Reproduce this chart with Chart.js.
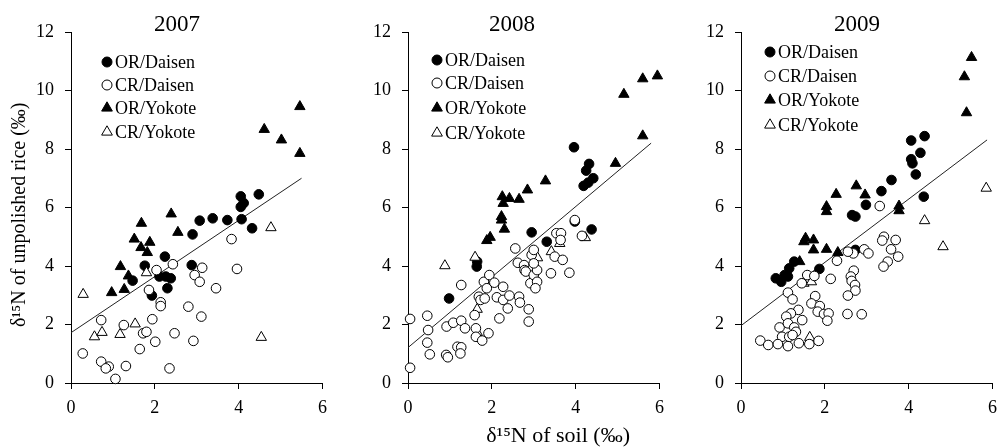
<!DOCTYPE html>
<html>
<head>
<meta charset="utf-8">
<script src="https://cdn.jsdelivr.net/npm/chart.js@4.4.1/dist/chart.umd.min.js"></script>
<style>
  html, body { margin: 0; padding: 0; background: #fff; }
  #wrap { position: relative; width: 1006px; height: 448px; }
  canvas { position: absolute; top: 0; }
</style>
</head>
<body>
<div id="wrap">
  <canvas id="c0" width="335" height="448" style="left:0px"></canvas>
  <canvas id="c1" width="335" height="448" style="left:337px"></canvas>
  <canvas id="c2" width="335" height="448" style="left:670px"></canvas>
</div>
<script>
// values, [soil, rice]
const years = ['2007', '2008', '2009'];
const seriesNames = ['OR/Daisen', 'CR/Daisen', 'OR/Yokote', 'CR/Yokote'];
const xTitle = 'δ¹⁵N of soil (‰)';
const yTitle = 'δ¹⁵N of unpolished rice (‰)';

const orDaisen2007 = [[4.05,6.38],[4.12,6.15],[4.05,6.02],[4.48,6.45],[3.07,5.55],[3.38,5.63],[3.73,5.57],[4.07,5.60],[4.32,5.29],[2.90,5.08],[2.24,4.32],[1.76,4.01],[2.88,4.03],[1.47,3.50],[2.11,3.64],[2.26,3.64],[2.38,3.58],[2.30,3.24],[1.93,2.99]];
const crDaisen2007 = [[3.83,4.92],[3.96,3.90],[2.43,4.06],[2.04,3.86],[3.13,3.94],[2.95,3.69],[3.07,3.46],[3.46,3.24],[1.86,3.18],[2.14,2.76],[2.14,2.63],[2.80,2.61],[3.11,2.27],[1.94,2.18],[0.72,2.15],[1.26,1.98],[1.72,1.70],[1.80,1.75],[2.47,1.70],[2.01,1.41],[2.92,1.44],[1.64,1.16],[0.28,1.01],[0.72,0.73],[0.90,0.56],[0.83,0.50],[1.31,0.58],[2.35,0.50],[1.06,0.14]];
const orYokote2007 = [[5.46,9.45],[4.61,8.67],[5.02,8.31],[5.46,7.85],[2.39,5.78],[1.68,5.46],[2.55,5.15],[1.51,4.92],[1.88,4.81],[1.67,4.63],[1.82,4.46],[1.18,3.98],[1.37,3.66],[1.27,3.20],[0.97,3.09]];
const crYokote2007 = [[0.29,3.03],[4.77,5.31],[4.54,1.56],[0.56,1.58],[0.74,1.73],[1.17,1.66],[1.53,2.02],[1.80,3.77]];
const fit2007 = [[0,1.72],[5.5,7.0]];

const orDaisen2008 = [[3.96,8.06],[4.32,7.49],[4.25,7.26],[4.42,7.0],[4.30,6.85],[4.19,6.74],[2.95,5.15],[3.31,4.83],[4.38,5.25],[3.98,5.52],[1.65,4.15],[1.64,3.98],[0.98,2.89]];
const crDaisen2008 = [[0.05,2.19],[0.05,0.52],[0.46,2.30],[0.48,1.81],[0.46,1.38],[0.52,0.98],[0.91,0.96],[0.95,0.88],[0.92,1.93],[1.08,2.06],[1.27,3.35],[1.27,2.13],[1.36,1.87],[1.18,1.24],[1.27,1.22],[1.25,1.01],[1.59,2.32],[1.62,1.87],[1.62,1.58],[1.77,1.45],[1.92,1.70],[1.69,2.95],[1.73,2.84],[1.83,2.89],[1.81,3.46],[1.94,3.69],[1.88,3.24],[2.06,3.43],[2.12,2.93],[2.18,2.21],[2.27,2.84],[2.27,3.29],[2.38,2.55],[2.42,2.99],[2.56,4.60],[2.62,4.11],[2.65,2.95],[2.67,2.75],[2.77,4.03],[2.78,3.86],[2.81,3.81],[2.88,2.52],[2.88,2.10],[2.95,4.38],[3.00,4.55],[2.92,3.41],[3.00,3.69],[3.08,3.46],[3.04,3.24],[3.08,3.86],[3.00,4.09],[3.41,3.75],[3.54,5.12],[3.65,5.12],[3.50,4.32],[3.69,4.21],[3.85,3.77],[3.98,5.57],[4.15,5.03],[3.64,4.89]];
const orYokote2008 = [[1.88,4.87],[1.96,4.98],[2.23,5.57],[2.30,5.26],[2.23,5.69],[2.27,6.14],[2.25,6.37],[2.42,6.31],[2.65,6.28],[2.85,6.60],[3.28,6.91],[4.95,7.51],[5.15,9.87],[5.6,10.4],[5.95,10.5],[5.6,8.45]];
const crYokote2008 = [[0.88,4.01],[1.60,4.30],[1.65,2.52],[1.65,1.73],[3.09,4.28],[3.42,4.49],[3.62,4.77],[4.23,4.97]];
const fit2008 = [[0,1.21],[5.8,8.2]];

const orDaisen2009 = [[4.06,8.29],[4.38,8.44],[4.28,7.87],[4.06,7.65],[4.09,7.51],[4.17,7.13],[3.59,6.94],[3.35,6.56],[4.36,6.37],[2.98,6.09],[2.65,5.74],[2.73,5.69],[2.73,4.55],[1.87,3.90],[1.27,4.15],[1.15,3.92],[1.04,3.69],[0.83,3.58],[0.96,3.46],[1.12,3.64]];
const crDaisen2009 = [[3.31,6.05],[3.41,5.00],[3.37,4.87],[3.69,4.89],[3.58,4.57],[3.75,4.32],[3.50,4.15],[3.40,3.98],[2.94,4.57],[3.04,4.43],[2.68,4.43],[2.55,4.49],[2.29,4.18],[2.69,3.84],[2.62,3.64],[2.64,3.49],[2.72,3.35],[2.73,3.16],[2.55,2.99],[2.54,2.36],[2.88,2.35],[2.14,3.56],[1.58,3.69],[1.75,3.66],[1.45,3.41],[1.12,3.09],[1.23,2.86],[1.77,2.97],[1.68,2.72],[1.88,2.63],[1.83,2.44],[1.98,2.36],[2.09,2.38],[2.06,2.13],[1.37,2.50],[1.19,2.38],[1.08,2.27],[1.46,2.15],[0.92,1.90],[1.12,2.04],[1.27,1.90],[1.31,1.75],[0.98,1.58],[1.15,1.58],[1.23,1.64],[0.46,1.45],[0.65,1.30],[0.88,1.33],[1.12,1.26],[1.38,1.36],[1.63,1.33],[1.85,1.44]];
const orYokote2009 = [[5.50,11.13],[5.33,10.47],[5.38,9.24],[2.27,6.45],[2.75,6.74],[2.96,6.43],[2.04,6.03],[2.04,5.86],[3.77,6.05],[3.77,5.89],[1.54,4.95],[1.50,4.83],[1.73,4.89],[1.73,4.55],[2.04,4.57],[2.31,4.46],[1.40,4.15]];
const crYokote2009 = [[5.85,6.66],[4.38,5.55],[4.82,4.66],[1.50,3.41],[1.68,3.46],[1.64,1.56]];
const fit2009 = [[0,1.96],[5.87,8.31]];

const SERIF = "'Liberation Serif', 'Times New Roman', serif";
const pts = arr => arr.map(([x, y]) => ({ x, y }));

// per panel: title / legend placement relative to the plot area
const panels = [
  { year: years[0], or: orDaisen2007, cr: crDaisen2007, oy: orYokote2007, cy: crYokote2007, fit: fit2007, titleDx: 106, legendDx: 36, rows: [62, 85, 108, 132] },
  { year: years[1], or: orDaisen2008, cr: crDaisen2008, oy: orYokote2008, cy: crYokote2008, fit: fit2008, titleDx: 104, legendDx: 29, rows: [60, 83, 108, 133] },
  { year: years[2], or: orDaisen2009, cr: crDaisen2009, oy: orYokote2009, cy: crYokote2009, fit: fit2009, titleDx: 116, legendDx: 29, rows: [52, 76, 100, 125] }
];

function marker(ctx, style, filled, x, y) {
  ctx.save();
  ctx.beginPath();
  if (style === 'circle') {
    ctx.arc(x, y, 5, 0, Math.PI * 2);
  } else {
    const r = 6.2;
    ctx.moveTo(x, y - r);
    ctx.lineTo(x + Math.sin(Math.PI * 2 / 3) * r, y + r / 2);
    ctx.lineTo(x - Math.sin(Math.PI * 2 / 3) * r, y + r / 2);
    ctx.closePath();
  }
  ctx.fillStyle = filled ? '#000' : '#fff';
  ctx.fill();
  ctx.lineWidth = 1;
  ctx.strokeStyle = '#000';
  ctx.stroke();
  ctx.restore();
}

const panelDecor = {
  id: 'panelDecor',
  afterDraw(chart, args, opts) {
    const { ctx, chartArea } = chart;
    ctx.save();
    ctx.fillStyle = '#000';
    ctx.font = '23px ' + SERIF;
    ctx.textAlign = 'center';
    ctx.textBaseline = 'middle';
    ctx.fillText(opts.title, chartArea.left + opts.titleDx, 25);

    // axis titles (the reference sets them a little off-centre)
    if (opts.xTitle) {
      ctx.font = '22px ' + SERIF;
      ctx.fillText(opts.xTitle, chart.scales.x.getPixelForValue(3.58), 436);
    }
    if (opts.yTitle) {
      ctx.save();
      ctx.font = '20px ' + SERIF;
      ctx.translate(20, chart.scales.y.getPixelForValue(5.75));
      ctx.rotate(-Math.PI / 2);
      ctx.fillText(opts.yTitle, 0, 0);
      ctx.restore();
    }

    const styles = [['circle', true], ['circle', false], ['triangle', true], ['triangle', false]];
    ctx.font = '18px ' + SERIF;
    ctx.textAlign = 'left';
    seriesNames.forEach((name, i) => {
      const mx = chartArea.left + opts.legendDx;
      const my = opts.rows[i];
      marker(ctx, styles[i][0], styles[i][1], mx, my);
      ctx.fillStyle = '#000';
      ctx.fillText(name, mx + 8, my + 1);
    });
    ctx.restore();
  }
};

function makeSet(label, data, style, filled) {
  return {
    label: label,
    data: pts(data),
    pointStyle: style,
    pointRadius: style === 'circle' ? 4.8 : 6,
    pointBackgroundColor: filled ? '#000' : '#fff',
    pointBorderColor: '#000',
    pointBorderWidth: 1,
    showLine: false,
    clip: false
  };
}

panels.forEach((p, i) => {
  const ctx = document.getElementById('c' + i).getContext('2d');
  new Chart(ctx, {
    type: 'scatter',
    data: {
      datasets: [
        makeSet(seriesNames[1], p.cr, 'circle', false),
        makeSet(seriesNames[3], p.cy, 'triangle', false),
        makeSet(seriesNames[0], p.or, 'circle', true),
        makeSet(seriesNames[2], p.oy, 'triangle', true),
        {
          label: 'fit',
          data: pts(p.fit),
          showLine: true,
          borderColor: '#222',
          borderWidth: 1,
          pointRadius: 0,
          fill: false
        }
      ]
    },
    options: {
      responsive: false,
      animation: false,
      layout: { padding: { left: 0, right: 4, top: 32, bottom: 0 } },
      scales: {
        x: {
          type: 'linear', min: 0, max: 6,
          ticks: { stepSize: 2, color: '#000', font: { family: SERIF, size: 18 }, padding: 8, maxRotation: 0 },
          grid: { drawOnChartArea: false, drawTicks: true, tickLength: 6, color: '#000' },
          border: { display: true, color: '#000', width: 1 },
          afterFit: s => { s.height = 65; }
        },
        y: {
          min: 0, max: 12,
          ticks: { stepSize: 2, color: '#000', font: { family: SERIF, size: 18 }, padding: 11 },
          grid: { drawOnChartArea: false, drawTicks: true, tickLength: 6, color: '#000' },
          border: { display: true, color: '#000', width: 1 },
          afterFit: s => { s.width = 71; }
        }
      },
      plugins: {
        legend: { display: false },
        tooltip: { enabled: false },
        panelDecor: {
          title: p.year, titleDx: p.titleDx, legendDx: p.legendDx, rows: p.rows,
          xTitle: i === 1 ? xTitle : null,
          yTitle: i === 0 ? yTitle : null
        }
      }
    },
    plugins: [panelDecor]
  });
});
</script>
</body>
</html>
